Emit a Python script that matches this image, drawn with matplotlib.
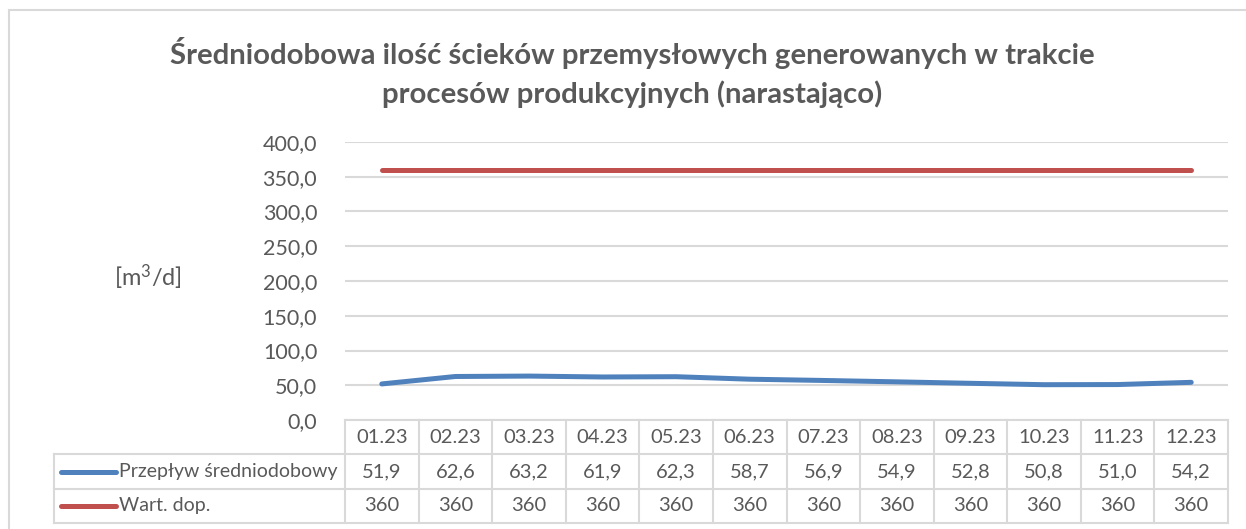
import matplotlib.pyplot as plt
from matplotlib.patches import Rectangle

months = ["01.23", "02.23", "03.23", "04.23", "05.23", "06.23",
          "07.23", "08.23", "09.23", "10.23", "11.23", "12.23"]
flow = [51.9, 62.6, 63.2, 61.9, 62.3, 58.7, 56.9, 54.9, 52.8, 50.8, 51.0, 54.2]
limit = [360] * 12
series_names = ["Przepływ średniodobowy", "Wart. dop."]
yticks = [0, 50, 100, 150, 200, 250, 300, 350, 400]

BLUE = "#4F81BD"
RED = "#C0504D"
TXT = "#595959"
GRID = "#D9D9D9"

plt.rcParams['font.family'] = ['Lato', 'DejaVu Sans']

W, H = 1246, 529
fig = plt.figure(figsize=(W / 100, H / 100), dpi=100)


def px(x0, y_top, x1, y_bot):
    # pixel box -> figure fraction [left, bottom, width, height]
    return [x0 / W, 1 - y_bot / H, (x1 - x0) / W, (y_bot - y_top) / H]


# chart frame
fig.patches.append(Rectangle((9 / W, -0.1), 1.2, 1 - 10 / H + 0.1,
                             transform=fig.transFigure, fill=False,
                             edgecolor=GRID, lw=1.5))

# title
fig.text(632 / W, 1 - 53 / H,
         "Średniodobowa ilość ścieków przemysłowych generowanych w trakcie",
         ha='center', va='center', fontsize=21.2, fontweight='bold', color=TXT)
fig.text(632 / W, 1 - 94 / H, "procesów produkcyjnych (narastająco)",
         ha='center', va='center', fontsize=21.2, fontweight='bold', color=TXT)

# plot area
ax = fig.add_axes(px(345, 142, 1228, 420))
x = list(range(len(months)))
ax.plot(x, flow, color=BLUE, lw=3.6, solid_capstyle='round', zorder=3)
ax.plot(x, limit, color=RED, lw=3.6, solid_capstyle='round', zorder=3)
ax.set_xlim(-0.5, len(months) - 0.5)
ax.set_ylim(0, 400)
ax.set_yticks(yticks)
ax.set_yticklabels([f"{v:.1f}".replace('.', ',') for v in yticks],
                   fontsize=15.5, color=TXT)
ax.tick_params(axis='y', length=0, pad=20)
ax.set_xticks([])
ax.grid(axis='y', color=GRID, lw=1.5)
ax.set_axisbelow(True)
for s in ax.spines.values():
    s.set_visible(False)

fig.text(148 / W, 1 - 277 / H, r"$\mathregular{[m^3/d]}$", ha='center',
         va='center', fontsize=17, color=TXT)

# data table
tab = fig.add_axes(px(54, 420, 1228, 523))
left = -0.5 - (345 - 54) / ((1228 - 345) / 12)
tab.set_xlim(left, len(months) - 0.5)
tab.set_ylim(3, 0)
tab.axis('off')
n = len(months)
kw = dict(color=GRID, lw=1.5, clip_on=False)
tab.plot([-0.5, n - 0.5], [0, 0], **kw)
for k in range(n + 1):
    tab.plot([k - 0.5, k - 0.5], [0, 3], **kw)
for yy in (1, 2, 3):
    tab.plot([left, n - 0.5], [yy, yy], **kw)
tab.plot([left, left], [1, 3], **kw)

for i, m in enumerate(months):
    tab.text(i, 0.5, m, ha='center', va='center', fontsize=14.5, color=TXT)
    tab.text(i, 1.5, f"{flow[i]:.1f}".replace('.', ','), ha='center',
             va='center', fontsize=14.5, color=TXT)
    tab.text(i, 2.5, f"{limit[i]}", ha='center', va='center',
             fontsize=14.5, color=TXT)

for r, (name, col) in enumerate(zip(series_names, [BLUE, RED])):
    yy = 1.5 + r
    tab.plot([left + 0.1, left + 0.84], [yy, yy], color=col, lw=3.6,
             solid_capstyle='round', clip_on=False)
    tab.text(left + 0.88, yy, name, ha='left', va='center', fontsize=14,
             color=TXT)

fig.savefig("out.png", dpi=100)
